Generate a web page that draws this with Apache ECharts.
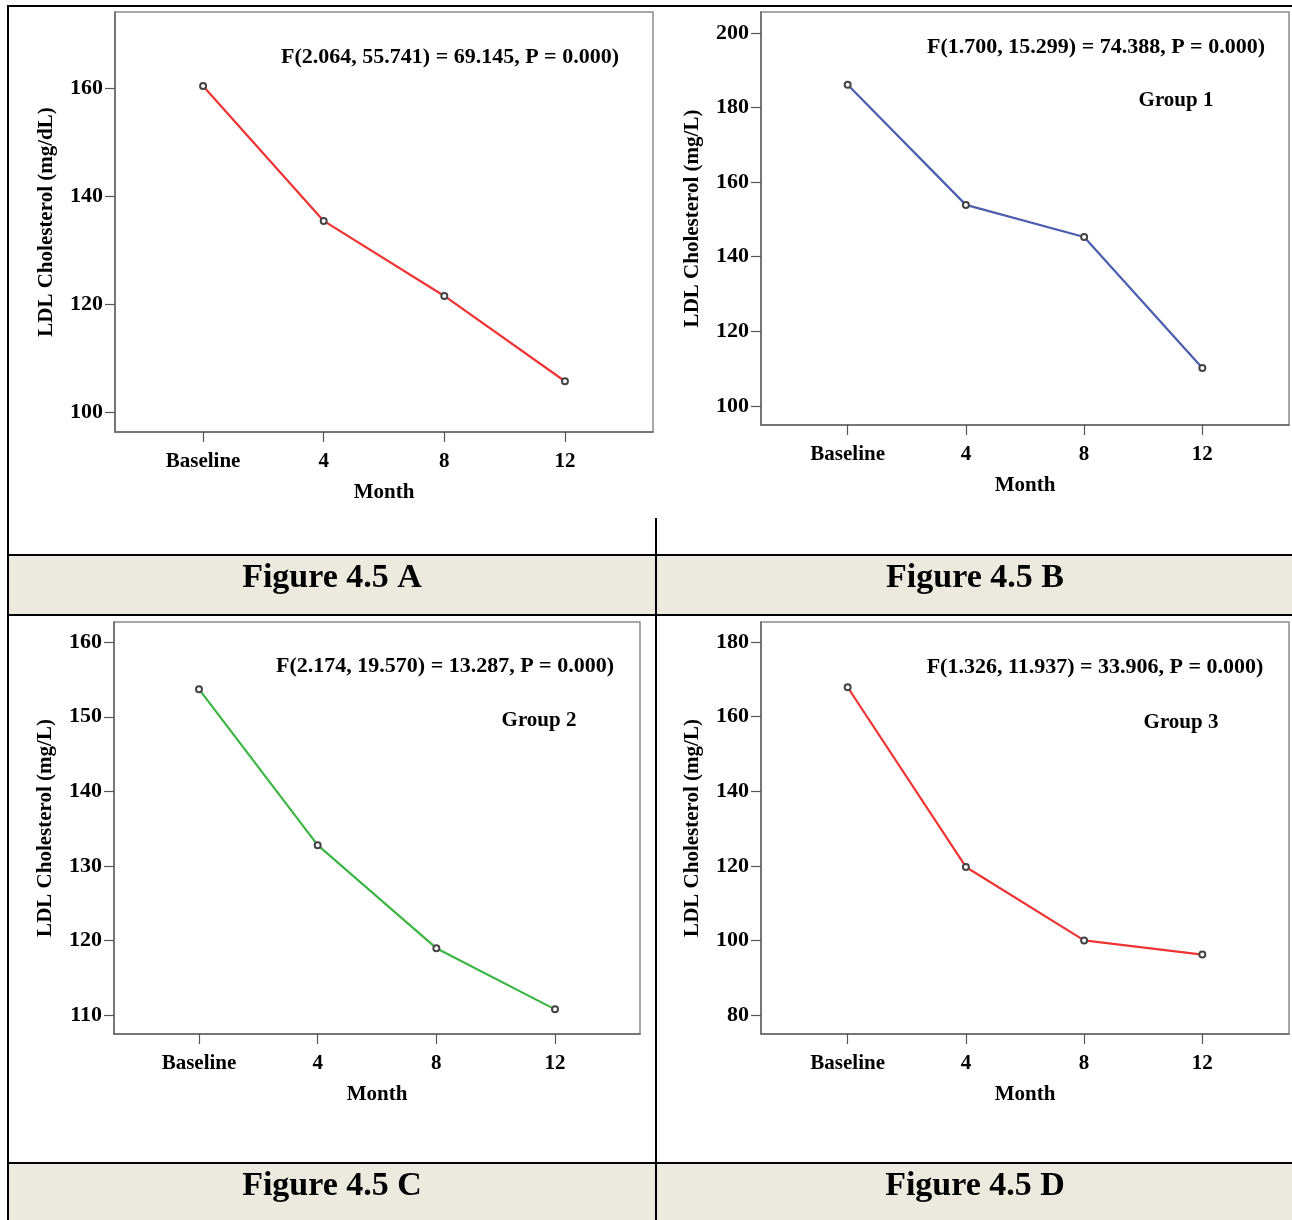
<!DOCTYPE html>
<html><head><meta charset="utf-8">
<script src="https://cdn.jsdelivr.net/npm/echarts@6/dist/echarts.min.js"></script>
<style>html,body{margin:0;padding:0;background:#fff}#c{width:1292px;height:1220px}</style>
</head><body><div id="c"></div>
<script>
// ---- data ----
const categories = ['Baseline', '4', '8', '12'];
const categoryIndex = [0, 1, 2, 3];
const valuesA = [160.4, 135.4, 121.5, 105.7];
const valuesB = [186.1, 153.9, 145.3, 110.2];
const valuesC = [153.7, 132.8, 119.0, 110.8];
const valuesD = [167.9, 119.7, 100.0, 96.2];
const ticksA = [100, 120, 140, 160];
const ticksB = [100, 120, 140, 160, 180, 200];
const ticksC = [110, 120, 130, 140, 150, 160];
const ticksD = [80, 100, 120, 140, 160, 180];
const yTitleA = 'LDL Cholesterol (mg/dL)';
const yTitleBCD = 'LDL Cholesterol (mg/L)';
const xTitle = 'Month';
const statsA = 'F(2.064, 55.741) = 69.145, P = 0.000)';
const statsB = 'F(1.700, 15.299) = 74.388, P = 0.000)';
const statsC = 'F(2.174, 19.570) = 13.287, P = 0.000)';
const statsD = 'F(1.326, 11.937) = 33.906, P = 0.000)';
const groupLabels = ['', 'Group 1', 'Group 2', 'Group 3'];
const captions = ['Figure 4.5 A', 'Figure 4.5 B', 'Figure 4.5 C', 'Figure 4.5 D'];

// ---- layout / style ----
const FONT = '"Liberation Serif", "Times New Roman", serif';
const panels = [
  {values: valuesA, ticks: ticksA, yTitle: yTitleA, color: '#EE3333', grid: {left: 115, top: 12, width: 538, height: 420}, y: [96.3, 174.1], xm: 0.73,
   stats: {x: 450, y: 57}, group: null, caption: {x: 332, y: 578}},
  {values: valuesB, ticks: ticksB, yTitle: yTitleBCD, color: '#4A5DAE', grid: {left: 761, top: 12, width: 528, height: 413}, y: [94.9, 205.6], xm: 0.733,
   stats: {x: 1096, y: 47}, group: {x: 1176, y: 101}, caption: {x: 975, y: 578}},
  {values: valuesC, ticks: ticksC, yTitle: yTitleBCD, color: '#3DB544', grid: {left: 114, top: 622, width: 526, height: 412}, y: [107.5, 162.7], xm: 0.716,
   stats: {x: 445, y: 666}, group: {x: 539, y: 721}, caption: {x: 332, y: 1186}},
  {values: valuesD, ticks: ticksD, yTitle: yTitleBCD, color: '#EE3333', grid: {left: 761, top: 622, width: 528, height: 412}, y: [74.9, 185.4], xm: 0.733,
   stats: {x: 1095, y: 667}, group: {x: 1181, y: 723}, caption: {x: 975, y: 1186}}
];
const statsList = [statsA, statsB, statsC, statsD];

const txt = {fontFamily: FONT, fontWeight: 'bold', color: '#000', fontSize: 21};
const option = {
  backgroundColor: '#fff',
  animation: false,
  grid: [], xAxis: [], yAxis: [], series: [], graphic: []
};

panels.forEach((p, i) => {
  option.grid.push(Object.assign({show: true, borderColor: '#8a8a8a', borderWidth: 1.5, backgroundColor: '#fff', containLabel: false}, p.grid));
  option.xAxis.push({
    type: 'value', gridIndex: i, min: -p.xm, max: 3 + p.xm,
    name: xTitle, nameLocation: 'middle', nameGap: 50,
    nameTextStyle: Object.assign({}, txt),
    axisLine: {show: true, onZero: false, lineStyle: {color: '#666', width: 1.5}},
    axisTick: {show: true, inside: false, length: 10, customValues: categoryIndex, lineStyle: {color: '#555', width: 1.2}},
    axisLabel: Object.assign({show: true, margin: 19, customValues: categoryIndex, formatter: v => categories[Math.round(v)]}, txt),
    splitLine: {show: false}
  });
  option.yAxis.push({
    type: 'value', gridIndex: i, min: p.y[0], max: p.y[1],
    name: p.yTitle, nameLocation: 'middle', nameGap: 58, nameRotate: 90,
    nameTextStyle: Object.assign({}, txt),
    axisLine: {show: true, onZero: false, lineStyle: {color: '#666', width: 1.5}},
    axisTick: {show: true, inside: false, length: 10, customValues: p.ticks, lineStyle: {color: '#555', width: 1.2}},
    axisLabel: Object.assign({show: true, margin: 12, customValues: p.ticks, formatter: v => String(Math.round(v))}, txt, {fontSize: 22}),
    splitLine: {show: false}
  });
  option.series.push({
    type: 'line', xAxisIndex: i, yAxisIndex: i,
    data: p.values.map((v, k) => [categoryIndex[k], v]),
    symbol: 'emptyCircle', symbolSize: 6,
    itemStyle: {color: '#444', borderColor: '#444', borderWidth: 1},
    lineStyle: {color: p.color, width: 2.2},
    z: 3
  });
  option.graphic.push({type: 'text', x: p.stats.x, y: p.stats.y, z: 10,
    style: {text: statsList[i], textAlign: 'center', textVerticalAlign: 'middle', font: 'bold 22px ' + FONT, fill: '#000'}});
  if (p.group) {
    option.graphic.push({type: 'text', x: p.group.x, y: p.group.y, z: 10,
      style: {text: groupLabels[i], textAlign: 'center', textVerticalAlign: 'middle', font: 'bold 21px ' + FONT, fill: '#000'}});
  }
  option.graphic.push({type: 'text', x: p.caption.x, y: p.caption.y, z: 10,
    style: {text: captions[i], textAlign: 'center', textVerticalAlign: 'middle', font: 'bold 34px ' + FONT, fill: '#000'}});
});

// table bands and rules
const band = '#ECE9DF';
option.graphic.push(
  {type: 'rect', shape: {x: 8, y: 555, width: 1284, height: 60}, style: {fill: band}, z: 1},
  {type: 'rect', shape: {x: 8, y: 1163, width: 1284, height: 57}, style: {fill: band}, z: 1},
  {type: 'line', shape: {x1: 8, y1: 6, x2: 1292, y2: 6}, style: {stroke: '#000', lineWidth: 2}, z: 2},
  {type: 'line', shape: {x1: 8, y1: 555, x2: 1292, y2: 555}, style: {stroke: '#000', lineWidth: 2}, z: 2},
  {type: 'line', shape: {x1: 8, y1: 615, x2: 1292, y2: 615}, style: {stroke: '#000', lineWidth: 2}, z: 2},
  {type: 'line', shape: {x1: 8, y1: 1163, x2: 1292, y2: 1163}, style: {stroke: '#000', lineWidth: 2}, z: 2},
  {type: 'line', shape: {x1: 8, y1: 5, x2: 8, y2: 1220}, style: {stroke: '#000', lineWidth: 2}, z: 2},
  {type: 'line', shape: {x1: 656, y1: 518, x2: 656, y2: 1220}, style: {stroke: '#000', lineWidth: 2}, z: 2}
);

const chart = echarts.init(document.getElementById('c'), null, {renderer: 'canvas'});
chart.setOption(option);
</script></body></html>
